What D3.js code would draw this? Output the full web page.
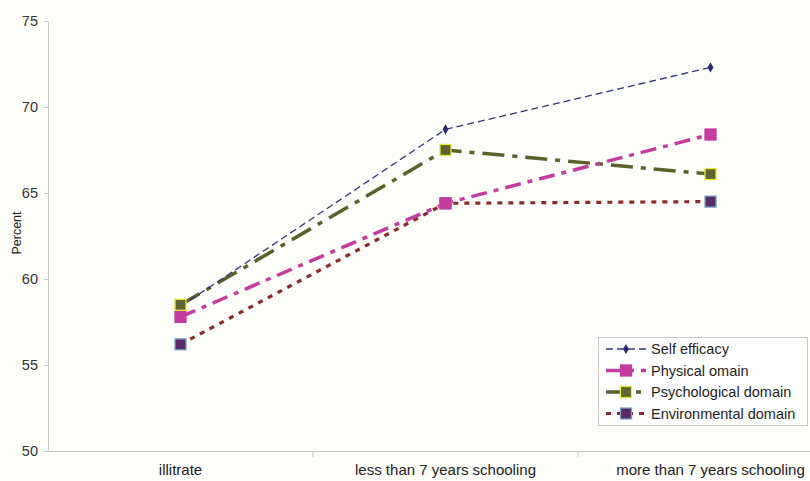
<!DOCTYPE html>
<html><head><meta charset="utf-8">
<script src="https://cdnjs.cloudflare.com/ajax/libs/d3/7.8.5/d3.min.js"></script>
<style>body{margin:0;background:#fdfdf9;}svg{display:block;}</style>
</head><body>
<script>
const categories = ["illitrate", "less than 7 years schooling", "more than 7 years schooling"];
const selfEfficacy = [58.4, 68.7, 72.3];
const physical = [57.8, 64.4, 68.4];
const psychological = [58.5, 67.5, 66.1];
const environmental = [56.2, 64.4, 64.5];
const yTicks = [50, 55, 60, 65, 70, 75];
const seriesNames = ["Self efficacy", "Physical omain", "Psychological domain", "Environmental domain"];

const series = [
  {name: seriesNames[0], values: selfEfficacy, line: "#2f3878", width: 1.3, dash: "7,4", marker: "diamond", fill: "#2a2a6e", stroke: "#2a2a6e"},
  {name: seriesNames[1], values: physical, line: "#c43c9e", width: 3.5, dash: "16,7,5,7", marker: "square", fill: "#c43c9e", stroke: "#c43c9e"},
  {name: seriesNames[2], values: psychological, line: "#5b602c", width: 3.5, dash: "22,8,5,8", marker: "square", fill: "#5e6330", stroke: "#e6e83a"},
  {name: seriesNames[3], values: environmental, line: "#8a2a2a", width: 3.2, dash: "5,6", marker: "square", fill: "#5a2c66", stroke: "#7aa6c6"}
];

const W = 810, H = 481;
const svg = d3.select("body").append("svg").attr("width", W).attr("height", H)
  .style("font-family", "'Liberation Sans', Arial, sans-serif");
svg.append("rect").attr("width", W).attr("height", H).attr("fill", "#fdfdf9");

const x = d3.scaleBand().domain(categories).range([48, 843]);
const y = d3.scaleLinear().domain([50, 75]).range([451, 21]);

const yAxis = svg.append("g").attr("transform", "translate(48,0)")
  .call(d3.axisLeft(y).tickValues(yTicks).tickSize(4).tickPadding(6).tickFormat(d3.format("d")));
yAxis.select(".domain").attr("stroke", "#c8c8c8");
yAxis.selectAll(".tick line").attr("stroke", "#c8c8c8");
yAxis.selectAll(".tick text").attr("fill", "#333").style("font-size", "14.5px");

const xAxis = svg.append("g").attr("transform", "translate(0,451)")
  .call(d3.axisBottom(x).tickSize(0).tickPadding(13));
xAxis.select(".domain").attr("stroke", "#c8c8c8");
xAxis.selectAll(".tick text").attr("fill", "#222").style("font-size", "15px");
const seps = categories.slice(1).map(c => x(c));
svg.append("g").selectAll("line").data(seps).join("line")
  .attr("x1", d => d).attr("x2", d => d).attr("y1", 451).attr("y2", 457)
  .attr("stroke", "#c8c8c8");

svg.append("text").attr("transform", "translate(21,233) rotate(-90)")
  .attr("text-anchor", "middle").style("font-size", "12.5px").attr("fill", "#222").text("Percent");

const cx = c => x(c) + x.bandwidth() / 2;
const line = d3.line().x((d, i) => cx(categories[i])).y(d => y(d));

const order = [3, 2, 1, 0];
order.forEach(k => {
  const s = series[k];
  svg.append("path").datum(s.values).attr("d", line).attr("fill", "none")
    .attr("stroke", s.line).attr("stroke-width", s.width).attr("stroke-dasharray", s.dash);
});
function drawMarker(g, s, px, py) {
  if (s.marker === "diamond") {
    g.append("path").attr("d", d3.symbol(d3.symbolDiamond, 30)()).attr("transform", `translate(${px},${py})`)
      .attr("fill", s.fill);
  } else {
    g.append("rect").attr("x", px - 5.5).attr("y", py - 5.5).attr("width", 11).attr("height", 11)
      .attr("fill", s.fill).attr("stroke", s.stroke).attr("stroke-width", 1.3);
  }
}
[0, 3, 1, 2].forEach(k => {
  const s = series[k];
  const g = svg.append("g");
  s.values.forEach((v, i) => drawMarker(g, s, cx(categories[i]), y(v)));
});

const lg = svg.append("g");
lg.append("rect").attr("x", 598.5).attr("y", 337.5).attr("width", 209).attr("height", 88)
  .attr("fill", "#fefefe").attr("stroke", "#c8c8c8");
series.forEach((s, i) => {
  const ly = 349 + i * 21.5;
  lg.append("line").attr("x1", 606).attr("x2", 646).attr("y1", ly).attr("y2", ly)
    .attr("stroke", s.line).attr("stroke-width", s.width).attr("stroke-dasharray", s.dash);
  drawMarker(lg, s, 626, ly);
  lg.append("text").attr("x", 651).attr("y", ly + 5).style("font-size", "14.5px").attr("fill", "#1e1e1e").text(s.name);
});
</script>
</body></html>
